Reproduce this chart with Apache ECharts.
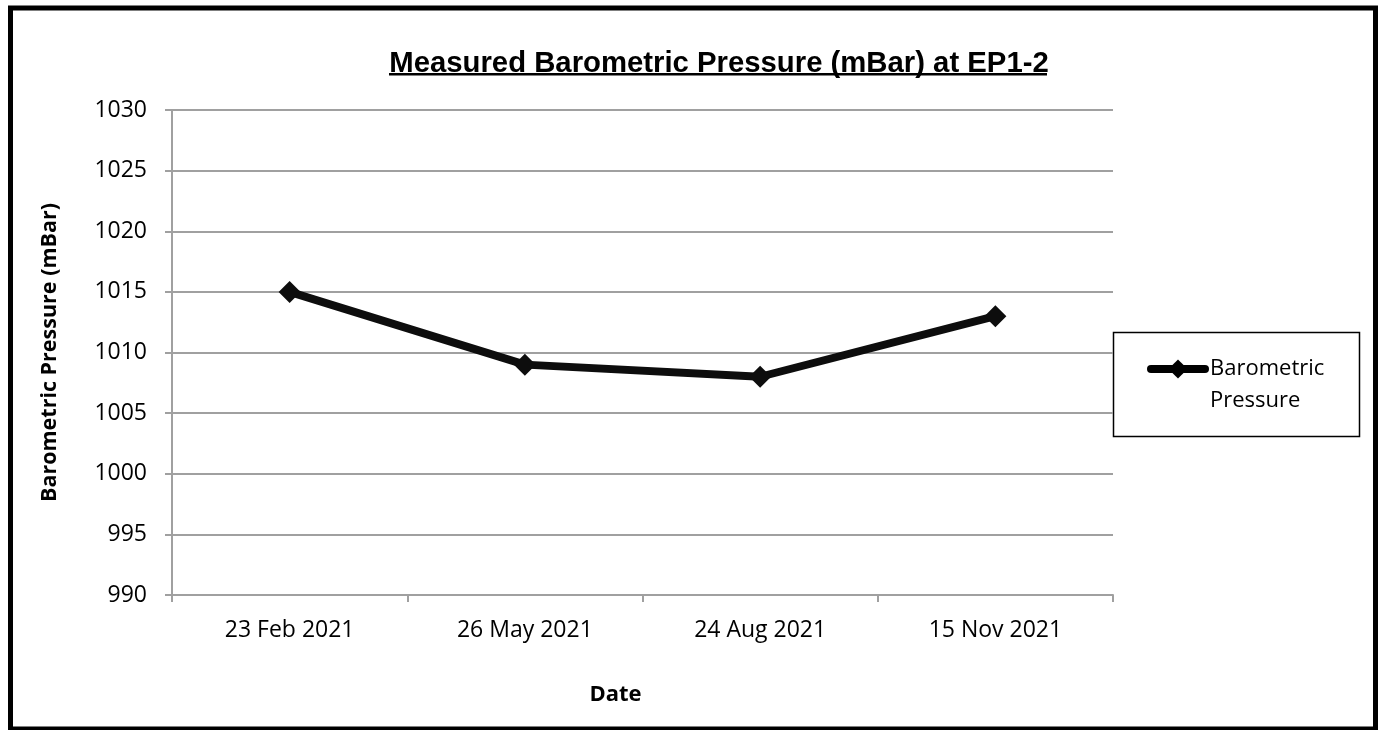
<!DOCTYPE html>
<html>
<head>
<meta charset="utf-8">
<script src="https://cdn.jsdelivr.net/npm/echarts@6/dist/echarts.min.js"></script>
<style>
  html, body { margin: 0; padding: 0; background: #fff; }
  #main { width: 1380px; height: 730px; }
</style>
</head>
<body>
<div id="main"></div>
<script>
// data
var dates = ["23 Feb 2021", "26 May 2021", "24 Aug 2021", "15 Nov 2021"];
var pressure = [1015, 1009, 1008, 1013];
var seriesName = "Barometric Pressure";

var labelFont = "'Open Sans', 'Noto Sans', sans-serif";

var chart = echarts.init(document.getElementById("main"));
chart.setOption({
  backgroundColor: "#fff",
  animation: false,
  title: {
    text: "Measured Barometric Pressure (mBar) at EP1-2",
    left: 714,
    top: 44,
    textAlign: "center",
    textStyle: {
      fontFamily: "'Liberation Sans', Arial, sans-serif",
      fontWeight: "bold",
      fontSize: 29.3,
      color: "#000"
    }
  },
  grid: {
    left: 172,
    right: 267,
    top: 110,
    bottom: 135
  },
  legend: {
    show: true,
    left: 1147,
    top: 321,
    padding: 0,
    itemWidth: 54,
    itemHeight: 24,
    itemGap: 0,
    // blank first line keeps the marker level with "Barometric"
    formatter: function () { return "\nBarometric\nPressure"; },
    lineStyle: { width: 8, cap: "round", color: "#000" },
    itemStyle: { color: "#000" },
    textStyle: {
      fontFamily: labelFont,
      fontSize: 22,
      color: "#000",
      lineHeight: 32
    },
    data: [seriesName]
  },
  xAxis: {
    type: "category",
    data: dates,
    boundaryGap: true,
    name: "Date",
    nameLocation: "middle",
    nameGap: 89,
    nameTextStyle: {
      fontFamily: labelFont,
      fontWeight: "bold",
      fontSize: 22,
      color: "#000",
      padding: [0, 54, 0, 0]
    },
    axisLine: { lineStyle: { color: "#a0a0a0", width: 2 } },
    axisTick: { show: true, length: 7, lineStyle: { color: "#a0a0a0", width: 2 } },
    axisLabel: {
      margin: 24,
      fontFamily: labelFont,
      fontSize: 23,
      color: "#000"
    },
    splitLine: { show: false }
  },
  yAxis: {
    type: "value",
    min: 990,
    max: 1030,
    interval: 5,
    name: "Barometric Pressure (mBar)",
    nameLocation: "middle",
    nameGap: 111,
    nameTextStyle: {
      fontFamily: labelFont,
      fontWeight: "bold",
      fontSize: 21.5,
      color: "#000"
    },
    axisLine: { show: true, lineStyle: { color: "#a0a0a0", width: 2 } },
    axisTick: { show: true, length: 7, lineStyle: { color: "#a0a0a0", width: 2 } },
    axisLabel: {
      margin: 25,
      fontFamily: labelFont,
      fontSize: 23,
      color: "#000",
      formatter: function (v) { return String(v); }
    },
    splitLine: { show: true, lineStyle: { color: "#a0a0a0", width: 2 } }
  },
  series: [
    {
      name: seriesName,
      type: "line",
      data: pressure,
      symbol: "diamond",
      symbolSize: 22,
      color: "#000",
      lineStyle: { color: "#0d0d0d", width: 8 },
      itemStyle: { color: "#0d0d0d" }
    }
  ],
  graphic: [
    // outer frame
    {
      type: "rect",
      shape: { x: 10.5, y: 8, width: 1365, height: 721 },
      style: { fill: null, stroke: "#000", lineWidth: 5 },
      silent: true
    },
    // legend box
    {
      type: "rect",
      shape: { x: 1113.5, y: 332.5, width: 246, height: 104 },
      style: { fill: null, stroke: "#000", lineWidth: 1.5 },
      silent: true
    },
    // title underline
    {
      type: "rect",
      shape: { x: 389, y: 73, width: 658, height: 2.5 },
      style: { fill: "#000" },
      silent: true
    }
  ]
});
</script>
</body>
</html>
